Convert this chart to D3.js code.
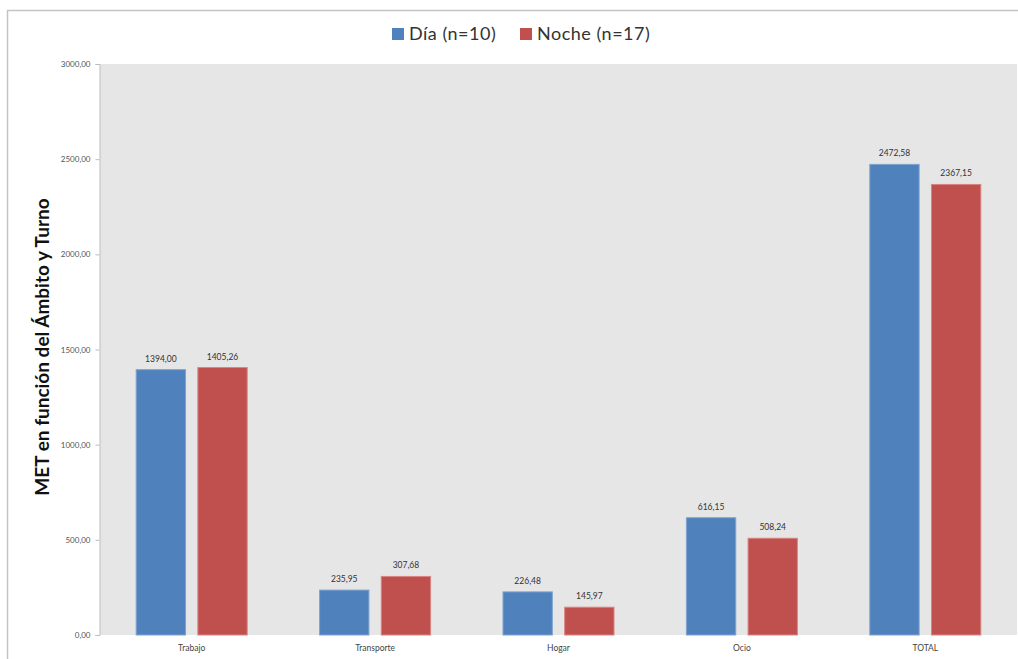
<!DOCTYPE html>
<html>
<head>
<meta charset="utf-8">
<script src="https://cdn.jsdelivr.net/npm/d3@7"></script>
<style>
html,body{margin:0;padding:0;background:#fff;}
svg{display:block;font-family:Lato, "Open Sans", sans-serif;}
</style>
</head>
<body>
<svg id="chart" width="1018" height="659"></svg>
<script>
const categories = ["Trabajo", "Transporte", "Hogar", "Ocio", "TOTAL"];
const seriesNames = ["Día (n=10)", "Noche (n=17)"];
const dia = [1394.00, 235.95, 226.48, 616.15, 2472.58];
const noche = [1405.26, 307.68, 145.97, 508.24, 2367.15];
const yTicks = [0, 500, 1000, 1500, 2000, 2500, 3000];
const colors = ["#4F81BD", "#C0504D"];

const svg = d3.select("#chart");
const W = 1018, H = 659;
const plot = {left: 100, right: 1017, top: 64, bottom: 635};

// outer frame
svg.append("rect").attr("x", 7.5).attr("y", 10.5).attr("width", W).attr("height", H)
  .attr("fill", "#fff").attr("stroke", "#c4c4c4").attr("stroke-width", 1.5);

// plot background
svg.append("rect").attr("x", plot.left).attr("y", plot.top)
  .attr("width", plot.right - plot.left).attr("height", plot.bottom - plot.top)
  .attr("fill", "#e6e6e6");

const x0 = d3.scaleBand().domain(categories).range([plot.left, plot.right]).paddingInner(0).paddingOuter(0);
const x1 = d3.scaleBand().domain([0, 1]).range([0, 111]).paddingInner(0.2);
const y = d3.scaleLinear().domain([0, 3000]).range([plot.bottom, plot.top]);
const fmt = v => v.toFixed(2).replace(".", ",");

// y axis
const yAxis = d3.axisLeft(y).tickValues(yTicks).tickFormat(d => fmt(d)).tickSize(4).tickPadding(5);
const ya = svg.append("g").attr("transform", `translate(${plot.left - 0.5},0)`).call(yAxis);
ya.select(".domain").attr("stroke", "#bdbdbd");
ya.selectAll(".tick line").attr("stroke", "#bdbdbd");
ya.selectAll(".tick text").attr("fill", "#555").attr("font-size", 8).attr("font-family", "Lato, sans-serif");

// x axis labels
const xa = svg.append("g").attr("transform", `translate(0,${plot.bottom})`)
  .call(d3.axisBottom(x0).tickSize(0).tickPadding(10));
xa.select(".domain").remove();
xa.selectAll(".tick text").attr("fill", "#444").attr("font-size", 8.5).attr("font-family", "Lato, sans-serif");

const data = categories.map((c, i) => ({cat: c, vals: [dia[i], noche[i]]}));
const groups = svg.append("g").selectAll("g").data(data).join("g")
  .attr("transform", d => `translate(${x0(d.cat) + (x0.bandwidth() - 111) / 2},0)`);

groups.selectAll("rect").data(d => d.vals.map((v, k) => ({v, k}))).join("rect")
  .attr("x", d => x1(d.k)).attr("width", x1.bandwidth())
  .attr("y", d => y(d.v)).attr("height", d => y(0) - y(d.v))
  .attr("fill", d => colors[d.k])
  .attr("stroke", d => d.k === 0 ? "#7fa3d0" : "#d98582").attr("stroke-width", 1);

groups.selectAll("text").data(d => d.vals.map((v, k) => ({v, k}))).join("text")
  .attr("x", d => x1(d.k) + x1.bandwidth() / 2).attr("y", d => y(d.v) - 8)
  .attr("text-anchor", "middle").attr("font-size", 8.5).attr("fill", "#333")
  .text(d => fmt(d.v));

// y axis title
svg.append("text").attr("transform", `translate(49,347) rotate(-90)`)
  .attr("text-anchor", "middle").attr("font-size", 19).attr("font-weight", "bold").attr("fill", "#111")
  .text("MET en función del Ámbito y Turno");

// legend
const legendX = [392, 520];
const leg = svg.append("g").selectAll("g").data(seriesNames).join("g")
  .attr("transform", (d, i) => `translate(${legendX[i]},28)`);
leg.append("rect").attr("width", 12).attr("height", 12).attr("fill", (d, i) => colors[i]);
leg.append("text").attr("x", 17).attr("y", 12).attr("font-size", 18).attr("letter-spacing", 0.5)
  .attr("fill", "#333").text(d => d);
</script>
</body>
</html>
